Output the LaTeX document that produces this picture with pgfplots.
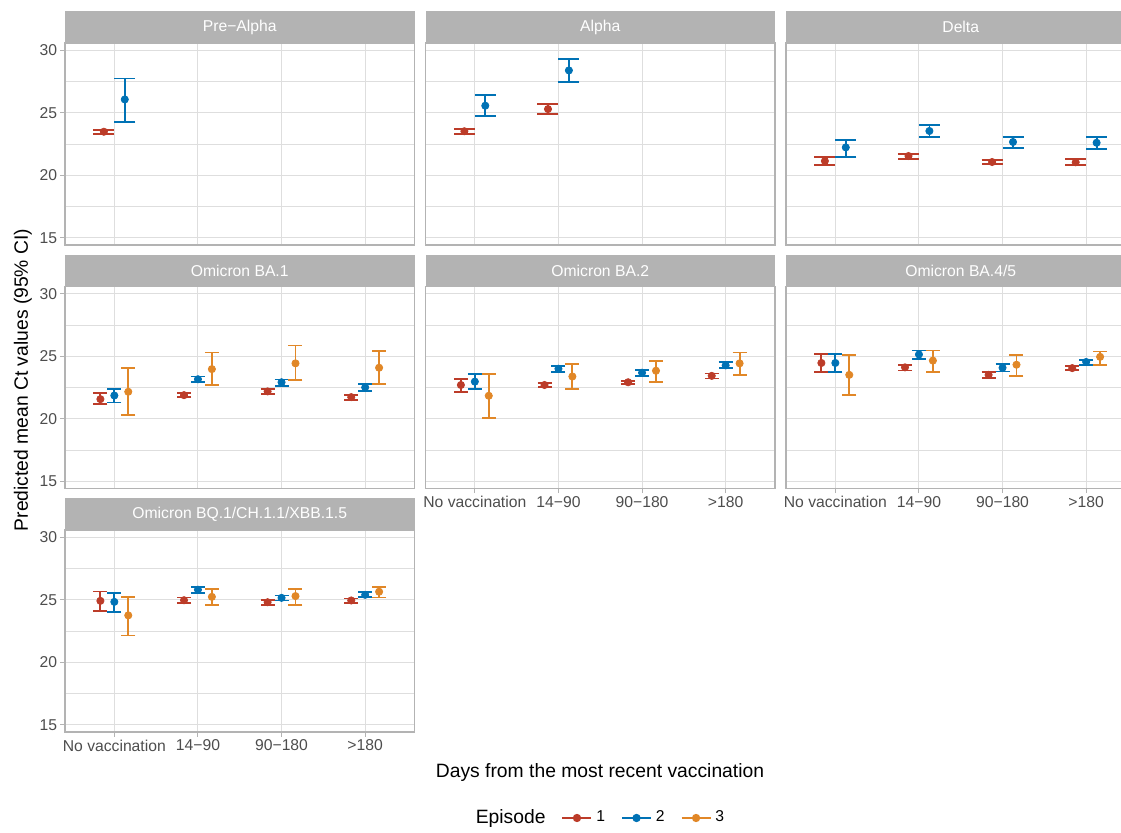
\documentclass[border=0pt]{standalone}
\usepackage{fontspec}
\setmainfont{Liberation Sans}
\usepackage{pgfplots}
\pgfplotsset{compat=1.18}
\definecolor{c1}{HTML}{BC3C29}
\definecolor{c2}{HTML}{0072B5}
\definecolor{c3}{HTML}{E18727}
\definecolor{g70}{HTML}{B3B3B3}
\definecolor{g87}{HTML}{DEDEDE}
\definecolor{g30}{HTML}{4D4D4D}
\newcommand{\tickfont}{\fontsize{7.85}{9.4}\selectfont}
\newcommand{\titlefont}{\fontsize{9.65}{11.6}\selectfont}
\pgfplotsset{
  panel/.style={
    scale only axis, width=174.75pt, height=101pt,
    xmin=0.41, xmax=4.59, ymin=14.43, ymax=30.57,
    xtick={1,2,3,4}, ytick={15,20,25,30}, minor ytick={17.5,22.5,27.5},
    xticklabels={}, yticklabels={},
    grid=both,
    major grid style={line width=0.47pt, draw=g87},
    minor grid style={line width=0.24pt, draw=g87},
    axis line style={draw=g70, line width=0.6pt},
    tick align=outside, tick pos=left,
    major tick length=2.3pt, minor tick length=0pt,
    xtick style={draw=none}, ytick style={draw=none},
    tick label style={font=\tickfont, text=g30},
    yticklabel style={inner sep=1.5pt},
    xticklabel style={inner sep=1.5pt},
    clip=false, anchor=north west,
  },
  showx/.style={xticklabels={No vaccination,14−90,90−180,>180}, xtick style={draw=g70, line width=0.47pt}},
  showy/.style={yticklabels={15,20,25,30}, ytick style={draw=g70, line width=0.47pt}},
  ebar/.style 2 args={only marks, mark=*, mark size=1.8pt, color=#1, forget plot,
    error bars/.cd, y dir=both, y explicit,
    error bar style={line width=0.9pt, solid},
    error mark options={rotate=90, mark size=#2, line width=0.9pt}},
  /pgfplots/table/dodge/.style={x expr=\thisrow{x}+(#1), y=y,
    y error plus expr=\thisrow{hi}-\thisrow{y},
    y error minus expr=\thisrow{y}-\thisrow{lo}},
}
\newcommand{\strip}[1]{%
  \fill[g70] (rel axis cs:0,1) rectangle ([yshift=16pt]rel axis cs:1,1);
  \node[text=white, font=\tickfont] at ([yshift=8pt]rel axis cs:0.5,1) {#1};}
\begin{document}
\begin{tikzpicture}
% ---------------- Row 1 ----------------
\begin{axis}[panel, showy, at={(32.5pt,-21.5pt)}]
\addplot[ebar={c1}{5.25pt}] table[dodge=-0.125] {
x y lo hi
1 23.48 23.32 23.64
};
\addplot[ebar={c2}{5.25pt}] table[dodge=0.125] {
x y lo hi
1 26.06 24.28 27.74
};
\strip{Pre−Alpha}
\end{axis}
\begin{axis}[panel, at={(212.75pt,-21.5pt)}]
\addplot[ebar={c1}{5.25pt}] table[dodge=-0.125] {
x y lo hi
1 23.52 23.33 23.72
2 25.29 24.89 25.69
};
\addplot[ebar={c2}{5.25pt}] table[dodge=0.125] {
x y lo hi
1 25.56 24.71 26.44
2 28.38 27.45 29.28
};
\strip{Alpha}
\end{axis}
\begin{axis}[panel, at={(393pt,-21.5pt)}]
\addplot[ebar={c1}{5.25pt}] table[dodge=-0.125] {
x y lo hi
1 21.14 20.82 21.46
2 21.54 21.30 21.73
3 21.06 20.90 21.25
4 21.04 20.82 21.30
};
\addplot[ebar={c2}{5.25pt}] table[dodge=0.125] {
x y lo hi
1 22.23 21.49 22.82
2 23.54 23.06 23.99
3 22.66 22.18 23.09
4 22.60 22.13 23.09
};
\strip{Delta}
\end{axis}
% ---------------- Row 2 ----------------
\begin{axis}[panel, showy, at={(32.5pt,-143.25pt)}]
\addplot[ebar={c1}{3.5pt}] table[dodge=-0.1667] {
x y lo hi
1 21.57 21.16 22.03
2 21.89 21.73 22.03
3 22.19 22.00 22.35
4 21.73 21.51 21.92
};
\addplot[ebar={c2}{3.5pt}] table[dodge=0] {
x y lo hi
1 21.86 21.30 22.35
2 23.16 22.97 23.38
3 22.92 22.65 23.14
4 22.51 22.19 22.81
};
\addplot[ebar={c3}{3.5pt}] table[dodge=0.1667] {
x y lo hi
1 22.16 20.32 24.08
2 23.97 22.68 25.30
3 24.43 23.08 25.86
4 24.08 22.81 25.43
};
\strip{Omicron BA.1}
\end{axis}
\begin{axis}[panel, showx, at={(212.75pt,-143.25pt)}]
\addplot[ebar={c1}{3.5pt}] table[dodge=-0.1667] {
x y lo hi
1 22.70 22.16 23.19
2 22.70 22.54 22.84
3 22.92 22.76 23.05
4 23.43 23.22 23.62
};
\addplot[ebar={c2}{3.5pt}] table[dodge=0] {
x y lo hi
1 22.97 22.35 23.59
2 24.00 23.73 24.24
3 23.68 23.43 23.92
4 24.27 24.03 24.54
};
\addplot[ebar={c3}{3.5pt}] table[dodge=0.1667] {
x y lo hi
1 21.84 20.08 23.59
2 23.38 22.35 24.38
3 23.84 22.92 24.65
4 24.43 23.49 25.30
};
\strip{Omicron BA.2}
\end{axis}
\begin{axis}[panel, showx, at={(393pt,-143.25pt)}]
\addplot[ebar={c1}{3.5pt}] table[dodge=-0.1667] {
x y lo hi
1 24.46 23.73 25.19
2 24.11 23.86 24.30
3 23.51 23.27 23.73
4 24.05 23.92 24.19
};
\addplot[ebar={c2}{3.5pt}] table[dodge=0] {
x y lo hi
1 24.46 23.73 25.19
2 25.14 24.78 25.46
3 24.08 23.78 24.35
4 24.54 24.32 24.70
};
\addplot[ebar={c3}{3.5pt}] table[dodge=0.1667] {
x y lo hi
1 23.51 21.89 25.11
2 24.65 23.73 25.46
3 24.32 23.43 25.08
4 24.95 24.32 25.38
};
\strip{Omicron BA.4/5}
\end{axis}
% ---------------- Row 3 ----------------
\begin{axis}[panel, showx, showy, at={(32.5pt,-265pt)},
  legend columns=4,
  legend style={at={(1.5308,-0.4257)}, anchor=center, draw=none, fill=none,
    font=\tickfont, inner sep=0pt,
    /tikz/every even column/.append style={column sep=6pt}},
  legend image code/.code={\draw[mark repeat=2,mark phase=2,#1] plot coordinates {(0pt,0pt) (7.25pt,0pt) (14.5pt,0pt)};}]
\addlegendimage{empty legend}
\addlegendentry{\titlefont Episode}
\addlegendimage{c1, mark=*, mark size=1.6pt, line width=0.9pt}
\addlegendentry{1}
\addlegendimage{c2, mark=*, mark size=1.6pt, line width=0.9pt}
\addlegendentry{2}
\addlegendimage{c3, mark=*, mark size=1.6pt, line width=0.9pt}
\addlegendentry{3}
\addplot[ebar={c1}{3.5pt}] table[dodge=-0.1667] {
x y lo hi
1 24.91 24.10 25.66
2 24.96 24.75 25.18
3 24.80 24.61 24.96
4 24.94 24.75 25.10
};
\addplot[ebar={c2}{3.5pt}] table[dodge=0] {
x y lo hi
1 24.83 23.99 25.53
2 25.80 25.56 26.01
3 25.15 24.94 25.34
4 25.39 25.21 25.61
};
\addplot[ebar={c3}{3.5pt}] table[dodge=0.1667] {
x y lo hi
1 23.75 22.14 25.23
2 25.23 24.56 25.83
3 25.29 24.56 25.85
4 25.64 25.18 26.01
};
\strip{Omicron BQ.1/CH.1.1/XBB.1.5}
\end{axis}
% ---------------- Titles ----------------
\node[font=\titlefont, rotate=90] at (11.5pt,-190pt) {Predicted mean Ct values (95\% CI)};
\node[font=\titlefont] at (300pt,-386pt) {Days from the most recent vaccination};
\pgfresetboundingbox
\path[use as bounding box] (0pt,0pt) rectangle (560.5pt,-416pt);
\end{tikzpicture}
\end{document}
